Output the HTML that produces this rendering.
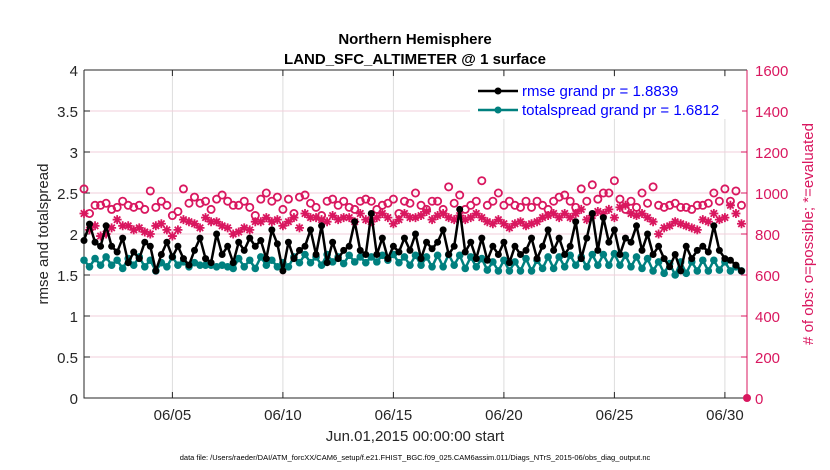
<!DOCTYPE html>
<html><head><meta charset="utf-8">
<style>
body{margin:0;background:#fff;}
svg{display:block;font-family:"Liberation Sans",Arial,sans-serif;}
</style></head>
<body>
<svg id="chart" width="830" height="470" viewBox="0 0 830 470">
<rect width="830" height="470" fill="#fff"/>
<g id="grid"></g>
<g id="axes"></g>
<g id="marks"></g>
<g id="legend"></g>
</svg>
<script>
const dayTicks = [4, 9, 14, 19, 24, 29];
const dayTickLabels = ["06/05","06/10","06/15","06/20","06/25","06/30"];
const leftTicks = [0,0.5,1,1.5,2,2.5,3,3.5,4];
const leftTickLabels = ["0","0.5","1","1.5","2","2.5","3","3.5","4"];
const rightTicks = [0,200,400,600,800,1000,1200,1400,1600];
const rmse = [
1.92,2.12,1.90,1.85, 2.10,1.85,1.78,1.95, 1.65,1.78,1.70,1.90, 1.85,1.55,1.75,1.90,
1.72,1.85,1.70,1.62, 1.80,1.95,1.70,1.65, 2.00,1.75,1.85,1.65, 1.90,1.80,1.95,1.85,
1.92,1.70,2.05,1.88, 1.55,1.90,1.70,1.80, 1.85,2.05,1.75,2.10, 1.65,1.90,1.70,1.80,
1.85,2.15,1.80,1.75, 2.25,1.75,1.95,1.70, 1.85,1.78,1.95,1.80, 2.00,1.70,1.90,1.82,
1.90,2.05,1.75,1.85, 2.30,1.78,1.90,1.70, 1.95,1.68,1.85,1.75, 1.90,1.65,1.85,1.75,
1.80,1.95,1.70,1.85, 2.05,1.80,1.95,1.75, 1.85,2.15,1.70,1.95, 2.25,1.80,2.20,1.90,
2.05,1.75,1.95,1.90, 2.10,1.80,2.00,1.75, 1.85,1.70,1.60,1.75, 1.55,1.85,1.70,1.80,
1.85,1.78,2.10,1.80, 1.70,1.68,1.62,1.55];
const spread = [
1.68,1.60,1.70,1.62, 1.72,1.62,1.68,1.58, 1.70,1.62,1.72,1.60, 1.68,1.55,1.65,1.60,
1.72,1.62,1.66,1.60, 1.65,1.62,1.62,1.62, 1.60,1.62,1.60,1.58, 1.70,1.60,1.68,1.58,
1.72,1.62,1.68,1.60, 1.65,1.60,1.72,1.65, 1.75,1.65,1.72,1.62, 1.75,1.66,1.72,1.64,
1.74,1.66,1.72,1.65, 1.72,1.66,1.74,1.68, 1.75,1.65,1.72,1.62, 1.74,1.62,1.72,1.60,
1.74,1.60,1.75,1.62, 1.74,1.58,1.72,1.60, 1.70,1.56,1.66,1.55, 1.68,1.55,1.66,1.55,
1.70,1.55,1.68,1.58, 1.72,1.58,1.72,1.60, 1.74,1.62,1.72,1.60, 1.75,1.62,1.75,1.62,
1.76,1.62,1.74,1.60, 1.72,1.58,1.70,1.55, 1.66,1.52,1.64,1.50, 1.66,1.52,1.66,1.55,
1.68,1.55,1.68,1.56, 1.66,1.55,1.60,1.55];
const possible = [
1020,900,940,940, 950,920,930,960, 940,930,940,920, 1010,930,960,940,
890,910,1020,950, 980,950,960,920, 970,990,960,940, 940,960,930,890,
970,1000,960,980, 920,970,900,980, 990,950,930,890, 960,970,940,960,
930,920,960,970, 960,920,940,950, 970,900,960,950, 1000,940,920,960,
960,920,1030,950, 990,920,940,960, 1060,940,960,1000, 940,960,940,930,
960,930,960,940, 920,960,980,990, 960,930,1020,960, 1040,970,1000,1000,
1060,970,920,960, 930,1000,950,1030, 940,930,940,950, 930,930,920,940,
940,950,1000,960, 1020,960,1010,940];
const evaluated = [
900,820,840,790, 800,830,870,840, 840,820,830,810, 800,840,850,820,
790,820,870,860, 850,830,880,860, 860,840,830,800, 810,830,820,860,
860,880,860,870, 840,860,880,830, 900,880,880,870, 860,890,870,880,
880,860,900,870, 860,880,900,880, 850,870,900,880, 880,890,910,870,
890,900,880,870, 890,870,880,900, 880,860,850,870, 850,830,850,860,
840,850,860,880, 890,900,880,900, 880,900,920,870, 890,910,900,920,
880,930,940,900, 890,900,880,860, 800,830,840,860, 850,840,830,820,
870,860,900,870, 880,940,900,850];

const L=84,R=747,T=70,B=398, DAYS=30;
const NS="http://www.w3.org/2000/svg";
const PINK="#d9175f", TEAL="#00807f", TXT="#262626";
function xS(d){return L+(d/DAYS)*(R-L);}
function yL(v){return B-(v/4)*(B-T);}
function yR(c){return B-(c/1600)*(B-T);}
function mk(tag,attrs,parent){const e=document.createElementNS(NS,tag);for(const k in attrs)e.setAttribute(k,attrs[k]);parent.appendChild(e);return e;}
const grid=document.getElementById('grid'),axes=document.getElementById('axes'),marks=document.getElementById('marks'),legend=document.getElementById('legend');

dayTicks.forEach((d,i)=>{
  const g=mk('line',{x1:xS(d),x2:xS(d),y1:T,y2:B,stroke:'#dcdcdc','stroke-width':1},grid);
  
  
  const tk=mk('line',{x1:xS(d),x2:xS(d),y1:B,y2:B-6,stroke:TXT},axes);
  
  
  const tk2=mk('line',{x1:xS(d),x2:xS(d),y1:T,y2:T+6,stroke:TXT},axes);
  
  
  const t=mk('text',{x:xS(d),y:B+22,'text-anchor':'middle','font-size':15,fill:TXT},axes);
  t.textContent=dayTickLabels[i];
  
  
});
rightTicks.forEach(c=>{
  if(c>0&&c<1600){const g=mk('line',{x1:L,x2:R,y1:yR(c),y2:yR(c),stroke:'#f2cfdb','stroke-width':1},grid);
  
  }
  const tk=mk('line',{x1:R,x2:R-6,y1:yR(c),y2:yR(c),stroke:PINK},axes);
  
  
  const t=mk('text',{x:R+8,y:yR(c)+6,'font-size':15,fill:PINK},axes);
  t.textContent=String(c);
  
  
});
leftTicks.forEach((v,i)=>{
  const tk=mk('line',{x1:L,x2:L+6,y1:yL(v),y2:yL(v),stroke:TXT},axes);
  
  
  const t=mk('text',{x:L-6,y:yL(v)+6,'text-anchor':'end','font-size':15,fill:TXT},axes);
  t.textContent=leftTickLabels[i];
  
  
});
const ax1=mk('polyline',{points:`${L},${T} ${L},${B} ${R},${B}`,fill:'none',stroke:TXT,'stroke-width':1},axes);


const ax2=mk('line',{x1:L,x2:R,y1:T,y2:T,stroke:TXT},axes);


const ax3=mk('line',{x1:R,x2:R,y1:T,y2:B,stroke:PINK,'stroke-width':1},axes);



function txt(s,attrs,name){const t=mk('text',attrs,axes);t.textContent=s;
  
  return t;}
txt('Northern Hemisphere',{x:415,y:44,'text-anchor':'middle','font-size':15,'font-weight':'bold',fill:'#000'},'chart-title');
txt('LAND_SFC_ALTIMETER @ 1 surface',{x:415,y:64,'text-anchor':'middle','font-size':15,'font-weight':'bold',fill:'#000'},'chart-subtitle');
txt('Jun.01,2015 00:00:00 start',{x:415,y:441,'text-anchor':'middle','font-size':15,fill:TXT},'x-axis-title');
txt('data file: /Users/raeder/DAI/ATM_forcXX/CAM6_setup/f.e21.FHIST_BGC.f09_025.CAM6assim.011/Diags_NTrS_2015-06/obs_diag_output.nc',{x:415,y:460,'text-anchor':'middle','font-size':7.5,fill:'#000'},'data-file-note');
txt('rmse and totalspread',{x:0,y:0,'text-anchor':'middle','font-size':15,fill:TXT,transform:'translate(48,234) rotate(-90)'},'left-y-axis-title');
txt('# of obs: o=possible; *=evaluated',{x:0,y:0,'text-anchor':'middle','font-size':15,fill:PINK,transform:'translate(813,234) rotate(-90)'},'right-y-axis-title');

function xi(i){return xS(i*0.25);}
possible.forEach((c,i)=>{
  const e=mk('circle',{cx:xi(i),cy:yR(c),r:3.6,fill:'none',stroke:PINK,'stroke-width':1.8},marks);
  
  
});
function star(x,y){
  const s=4.5,d=3.2;
  return `M${x-s},${y}L${x+s},${y}M${x},${y-s}L${x},${y+s}M${x-d},${y-d}L${x+d},${y+d}M${x-d},${y+d}L${x+d},${y-d}`;
}
evaluated.forEach((c,i)=>{
  const e=mk('path',{d:star(xi(i),yR(c)),stroke:PINK,'stroke-width':1.8,fill:'none'},marks);
  
  
});
const zm=mk('circle',{cx:R,cy:B,r:4,fill:PINK},marks);



function series(arr,color,r,name){
  const pl=mk('polyline',{points:arr.map((v,i)=>`${xi(i)},${yL(v)}`).join(' '),fill:'none',stroke:color,'stroke-width':2.5,'stroke-linejoin':'round'},marks);
  
  
  arr.forEach((v,i)=>{
    const c=mk('circle',{cx:xi(i),cy:yL(v),r:r,fill:color},marks);
    
    
  });
}
series(spread,TEAL,3.8,'totalspread');
series(rmse,'#000',3.5,'rmse');

const lb=mk('rect',{x:470,y:77,width:272,height:42,fill:'#fff',stroke:'none'},legend);


[['rmse grand pr = 1.8839','#000',91,'legend-entry-rmse'],['totalspread grand pr = 1.6812',TEAL,110,'legend-entry-totalspread']].forEach(e=>{
  const l=mk('line',{x1:478,x2:518,y1:e[2],y2:e[2],stroke:e[1],'stroke-width':2.5},legend);
  
  
  const c=mk('circle',{cx:498,cy:e[2],r:3.5,fill:e[1]},legend);
  
  
  const t=mk('text',{x:522,y:e[2]+5,'font-size':15,fill:'#0000ff'},legend);
  t.textContent=e[0];
  
  
});
</script>
</body></html>
